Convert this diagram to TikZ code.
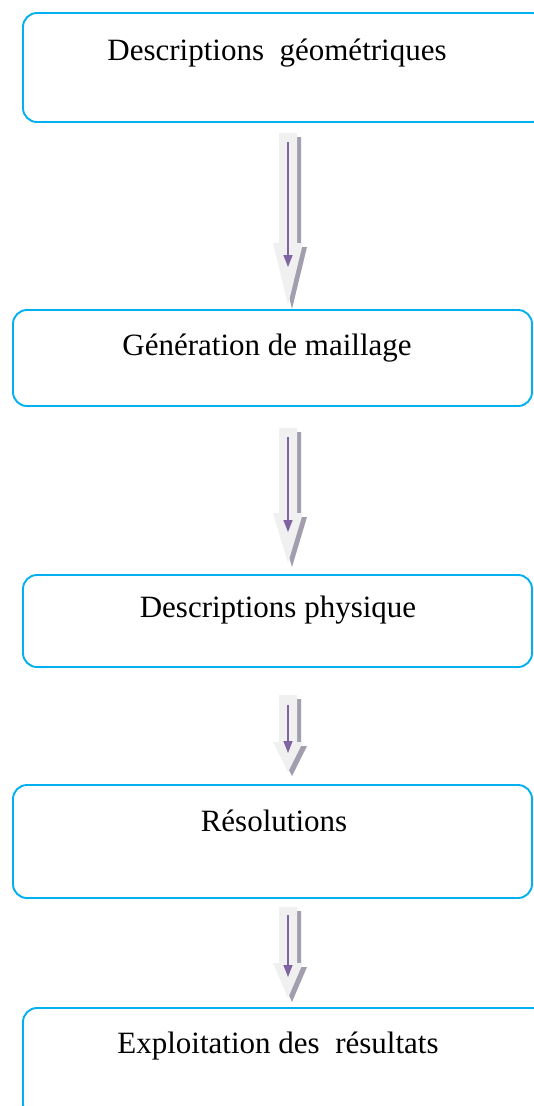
\documentclass[tikz,border=0pt]{standalone}
\usepackage{fontspec}
\setmainfont{Liberation Serif}
\usetikzlibrary{arrows.meta}
\definecolor{boxline}{HTML}{00B0F0}
\definecolor{arrfill}{HTML}{F0F0F0}
\definecolor{arrshadow}{HTML}{A39EAE}
\definecolor{arrpurple}{HTML}{8064A2}
\tikzset{
  stagebox/.style={draw=boxline, line width=1.9pt, rounded corners=14pt, inner sep=0pt},
  stagetext/.style={anchor=base, font=\fontsize{31}{37}\selectfont, inner sep=0pt},
  flowline/.style={draw=arrpurple, line width=1.5pt, -{Triangle[length=12pt,width=9pt]}},
}
% block arrow: #1 x, #2 top, #3 neck, #4 tip
\newcommand\blkarrow[4]{%
  \fill[arrshadow] ({#1-9+4},{#2+4}) -- ({#1+9+4},{#2+4}) -- ({#1+9+4},{#3+4}) -- ({#1+15+4},{#3+4})
     -- ({#1+4},{#4+4}) -- ({#1-15+4},{#3+4}) -- ({#1-9+4},{#3+4}) -- cycle;
  \fill[arrfill] ({#1-9},{#2}) -- ({#1+9},{#2}) -- ({#1+9},{#3}) -- ({#1+15},{#3})
     -- ({#1},{#4}) -- ({#1-15},{#3}) -- ({#1-9},{#3}) -- cycle;
}
\begin{document}
\begin{tikzpicture}[x=1pt,y=-1pt]
\useasboundingbox (0,0) rectangle (534,1106);
% boxes
\draw[stagebox] (23,13) rectangle (546,122);
\node[inner sep=0pt] (b1) at (284.5,67.5) {};
\draw[stagebox] (13,310) rectangle (532,406);
\node[inner sep=0pt] (b2) at (272.5,358) {};
\draw[stagebox] (23,575) rectangle (532,667);
\node[inner sep=0pt] (b3) at (277.5,621) {};
\draw[stagebox] (13,785) rectangle (532,898);
\node[inner sep=0pt] (b4) at (272.5,841.5) {};
\draw[stagebox] (23,1008) rectangle (546,1118);
\node[inner sep=0pt] (b5) at (284.5,1063) {};
% texts
\node[stagetext] (t1) at (277,60) {Descriptions\ \ géométriques};
\node[stagetext] (t2) at (267,355) {Génération de maillage};
\node[stagetext] (t3) at (278,617) {Descriptions physique};
\node[stagetext] (t4) at (274,831) {Résolutions};
\node[stagetext] (t5) at (278,1053) {Exploitation des\ \ résultats};
% block arrows
\blkarrow{288}{133}{243}{305}
\blkarrow{288}{428}{513}{563}
\blkarrow{288}{695}{742}{772}
\blkarrow{288}{907}{963}{998}
% purple connectors
\coordinate (a1s) at (288,142); \coordinate (a1e) at (288,267);
\coordinate (a2s) at (288,437); \coordinate (a2e) at (288,532);
\coordinate (a3s) at (288,705); \coordinate (a3e) at (288,753);
\coordinate (a4s) at (288,915); \coordinate (a4e) at (288,977);
\draw[flowline] (a1s) -- (a1e);
\draw[flowline] (a2s) -- (a2e);
\draw[flowline] (a3s) -- (a3e);
\draw[flowline] (a4s) -- (a4e);
\end{tikzpicture}
\end{document}
